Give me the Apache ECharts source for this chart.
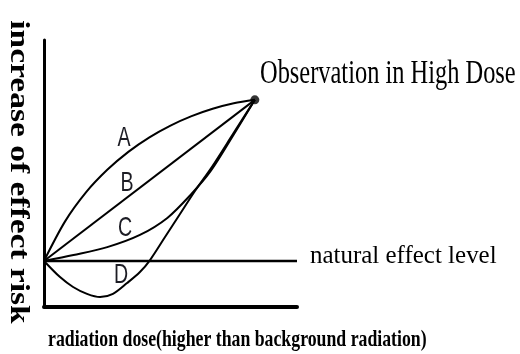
<!DOCTYPE html>
<html>
<head>
<meta charset="utf-8">
<script src="https://cdn.jsdelivr.net/npm/echarts@6/dist/echarts.min.js"></script>
<style>
  html, body { margin: 0; padding: 0; background: #fff; }
  #chart { width: 520px; height: 354px; }
</style>
</head>
<body>
<div id="chart"></div>
<script>
// dose (x) / effect risk (y), natural level = 2, high dose point = (10, 9)
const naturalLevel = [[0, 2], [12, 2]]
const highDose = [[10, 9]]
const curveA = [[0, 2], [1, 3.72], [2, 4.99], [3, 5.96], [4, 6.74], [5, 7.37], [6, 7.88], [7, 8.29], [8, 8.61], [9, 8.85], [10, 9]]
const curveB = [[0, 2], [10, 9]]
const curveC = [[0, 2], [1.4, 2.26], [3, 2.6], [4.55, 3.13], [5.85, 3.87], [6.95, 4.87], [7.9, 5.9], [9, 7.5], [10, 9]]
const curveD = [[0, 2], [0.76, 1.3], [1.38, 0.87], [2.04, 0.57], [2.66, 0.43], [3.27, 0.57], [3.94, 1.04], [4.55, 1.52], [5.03, 2.04], [5.74, 3.04], [6.45, 4.04], [7.16, 5.04], [7.97, 6.09], [8.97, 7.52], [10, 9]]
const curveNames = ['A', 'B', 'C', 'D']

const chart = echarts.init(document.getElementById('chart'), null, { renderer: 'canvas' })

const lineSeries = (name, data, smooth) => ({
  name: name,
  type: 'line',
  data: data,
  smooth: smooth,
  showSymbol: false,
  silent: true,
  lineStyle: { color: '#000', width: 2 }
})

const txt = (text, x, y, font, opts) => ({
  type: 'text',
  x: x,
  y: y,
  rotation: opts.rotation || 0,
  scaleX: opts.scaleX || 1,
  style: {
    text: text,
    font: font,
    fill: opts.fill || '#000',
    align: opts.align || 'left',
    verticalAlign: 'middle'
  }
})

const option = {
  animation: false,
  backgroundColor: '#fff',
  grid: { left: 44, right: 223, top: 40, bottom: 47 },
  xAxis: {
    type: 'value',
    min: 0,
    max: 12,
    axisLine: { show: true, lineStyle: { color: '#000', width: 4 } },
    axisTick: { show: false },
    axisLabel: { show: false },
    splitLine: { show: false }
  },
  yAxis: {
    type: 'value',
    min: 0,
    max: 11.6,
    axisLine: { show: true, lineStyle: { color: '#000', width: 3 } },
    axisTick: { show: false },
    axisLabel: { show: false },
    splitLine: { show: false }
  },
  series: [
    { ...lineSeries('natural', naturalLevel, false), lineStyle: { color: '#000', width: 2.5 } },
    lineSeries(curveNames[0], curveA, 0.3),
    lineSeries(curveNames[1], curveB, false),
    lineSeries(curveNames[2], curveC, 0.3),
    lineSeries(curveNames[3], curveD, 0.3),
    {
      type: 'scatter',
      data: highDose,
      symbol: 'circle',
      symbolSize: 9,
      silent: true,
      itemStyle: { color: '#000' }
    }
  ],
  graphic: [
    txt('Observation in High Dose', 260, 74, '33px "Liberation Serif"', { scaleX: 0.74 }),
    txt('natural effect level', 310, 256, '26px "Liberation Serif"', { scaleX: 0.96 }),
    txt('radiation dose(higher than background radiation)', 48, 340, 'bold 24px "Liberation Serif"', { scaleX: 0.74 }),
    txt('increase of effect risk', 18, 172, 'bold 27px "Liberation Serif"', { scaleX: 1.24, rotation: -Math.PI / 2, align: 'center' }),
    // curve letters
    txt(curveNames[0], 124, 138, '28px "Liberation Sans"', { scaleX: 0.7, align: 'center', fill: '#1c1c24' }),
    txt(curveNames[1], 127, 183, '28px "Liberation Sans"', { scaleX: 0.7, align: 'center', fill: '#1c1c24' }),
    txt(curveNames[2], 125, 228, '28px "Liberation Sans"', { scaleX: 0.7, align: 'center', fill: '#1c1c24' }),
    txt(curveNames[3], 121, 275, '28px "Liberation Sans"', { scaleX: 0.7, align: 'center', fill: '#1c1c24' })
  ]
}

chart.setOption(option)
</script>
</body>
</html>
